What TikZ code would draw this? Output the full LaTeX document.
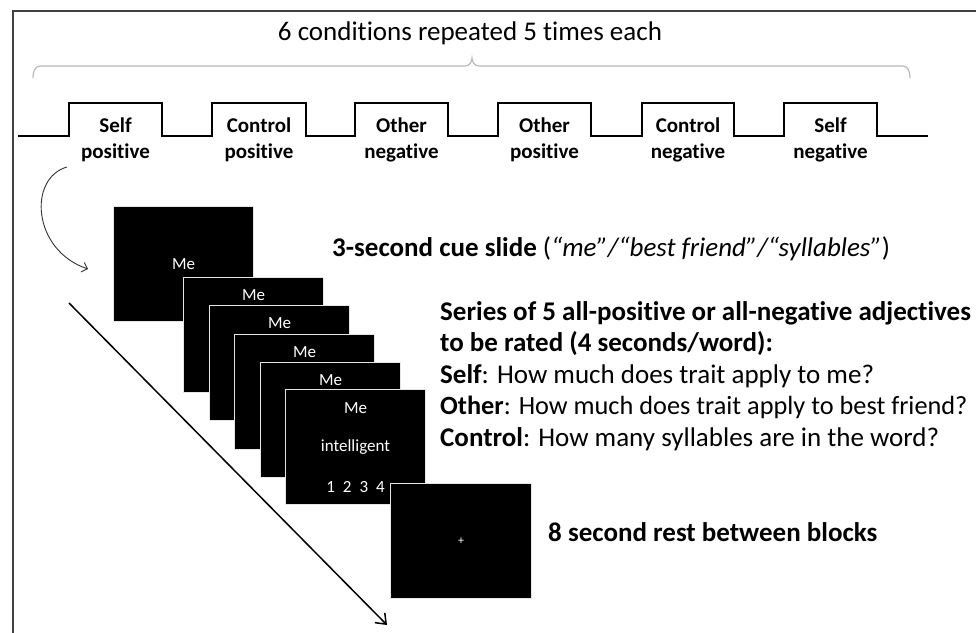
\documentclass[tikz,border=0pt]{standalone}
\usepackage{fontspec}
\setmainfont{Carlito}[Ligatures=NoCommon]
\usetikzlibrary{arrows.meta}
\begin{document}
\begin{tikzpicture}[x=1pt,y=-1pt,
  slide/.style={fill=black, draw=gray!20, line width=1pt, minimum width=140pt, minimum height=115pt, inner sep=0pt, anchor=north west},
  slidetxt/.style={text=white, font=\fontsize{17}{20}\selectfont, inner sep=0pt},
  cond/.style={font=\fontsize{21}{26}\selectfont\bfseries, align=center, inner sep=0pt},
  desc/.style={font=\fontsize{27}{31}\selectfont, anchor=base west, inner sep=0pt},
  wave/.style={line width=2.2pt, line join=miter},
  brace/.style={gray!55, line width=1.2pt},
  flow/.style={line width=1.5pt, -{Straight Barb[length=9pt,width=14pt,line width=1.5pt]}},
  cue/.style={line width=0.9pt, draw=black!80, -{Straight Barb[length=5pt,width=10pt,line width=0.9pt]}},
]
\useasboundingbox (0,0) rectangle (976,632);
\fill[white] (0,0) rectangle (976,632);
\draw[line width=1.8pt, black!75] (13,640) -- (13,11) -- (980,11);

\node[font=\fontsize{27}{32}\selectfont, inner sep=0pt] (title) at (470,33) {6 conditions repeated 5 times each};

\draw[brace] (33,78) to[out=90,in=180] (40,66) -- (465,66) to[out=0,in=270] (472,58)
  to[out=270,in=180] (479,66) -- (903,66) to[out=0,in=90] (910,78);

\draw[wave] (18,136) -- (69,136) -- (69,103) -- (162,103) -- (162,136) -- (212,136) -- (212,103)
  -- (306,103) -- (306,136) -- (355,136) -- (355,103) -- (448,103) -- (448,136) -- (498,136)
  -- (498,103) -- (591,103) -- (591,136) -- (642,136) -- (642,103) -- (734,103) -- (734,136)
  -- (784,136) -- (784,103) -- (877,103) -- (877,136) -- (928,136);

\node[cond] (c1) at (115.5,140) {Self\\positive};
\node[cond] (c2) at (259,140) {Control\\positive};
\node[cond] (c3) at (401.5,140) {Other\\negative};
\node[cond] (c4) at (544.5,140) {Other\\positive};
\node[cond] (c5) at (688,140) {Control\\negative};
\node[cond] (c6) at (830.5,140) {Self\\negative};

\node[slide] (s1) at (113,206) {};
\node[slidetxt] (m1) at (s1.center) {Me};
\node[slide] (s2) at (183,277) {};
\node[slidetxt] (m2) at ([yshift=-18pt]s2.north) {Me};
\node[slide] (s3) at (209,305) {};
\node[slidetxt] (m3) at ([yshift=-18pt]s3.north) {Me};
\node[slide] (s4) at (234,334) {};
\node[slidetxt] (m4) at ([yshift=-18pt]s4.north) {Me};
\node[slide] (s5) at (260,362) {};
\node[slidetxt] (m5) at ([yshift=-18pt]s5.north) {Me};
\node[slide] (s6) at (285,389) {};
\node[slidetxt] (m6) at ([yshift=-19pt]s6.north) {Me};
\node[slidetxt] (w6) at ([yshift=-58pt]s6.north) {intelligent};
\node[slidetxt] (r6) at ([yshift=-98pt]s6.north) {1\hspace{8pt}2\hspace{8pt}3\hspace{8pt}4};
\node[slide, minimum width=141pt] (rest) at (390,483) {};
\node[slidetxt, font=\fontsize{12}{14}\selectfont] (plus) at (rest.center) {+};

\node[desc] (cuetxt) at (332,256) {\textbf{3-second cue slide} (\textit{“me”/“best friend”/“syllables”})};
\node[desc] (ser1) at (440,320) {\textbf{Series of 5 all-positive or all-negative adjectives}};
\node[desc] (ser2) at (440,351.5) {\textbf{to be rated (4 seconds/word):}};
\node[desc] (ser3) at (440,383) {\textbf{Self}: How much does trait apply to me?};
\node[desc, font=\fontsize{26.3}{31}\selectfont] (ser4) at (440,414.5) {\textbf{Other}: How much does trait apply to best friend?};
\node[desc] (ser5) at (440,446) {\textbf{Control}: How many syllables are in the word?};
\node[desc] (resttxt) at (548,541) {\textbf{8 second rest between blocks}};

\coordinate (cuestart) at (67,167);
\coordinate (cueend) at (88,269);
\draw[cue] (cuestart) .. controls (28,178) and (32,250) .. (cueend);

\coordinate (tstart) at (69,303);
\coordinate (tend) at (387,625);
\draw[flow] (tstart) -- (tend);
\end{tikzpicture}
\end{document}
